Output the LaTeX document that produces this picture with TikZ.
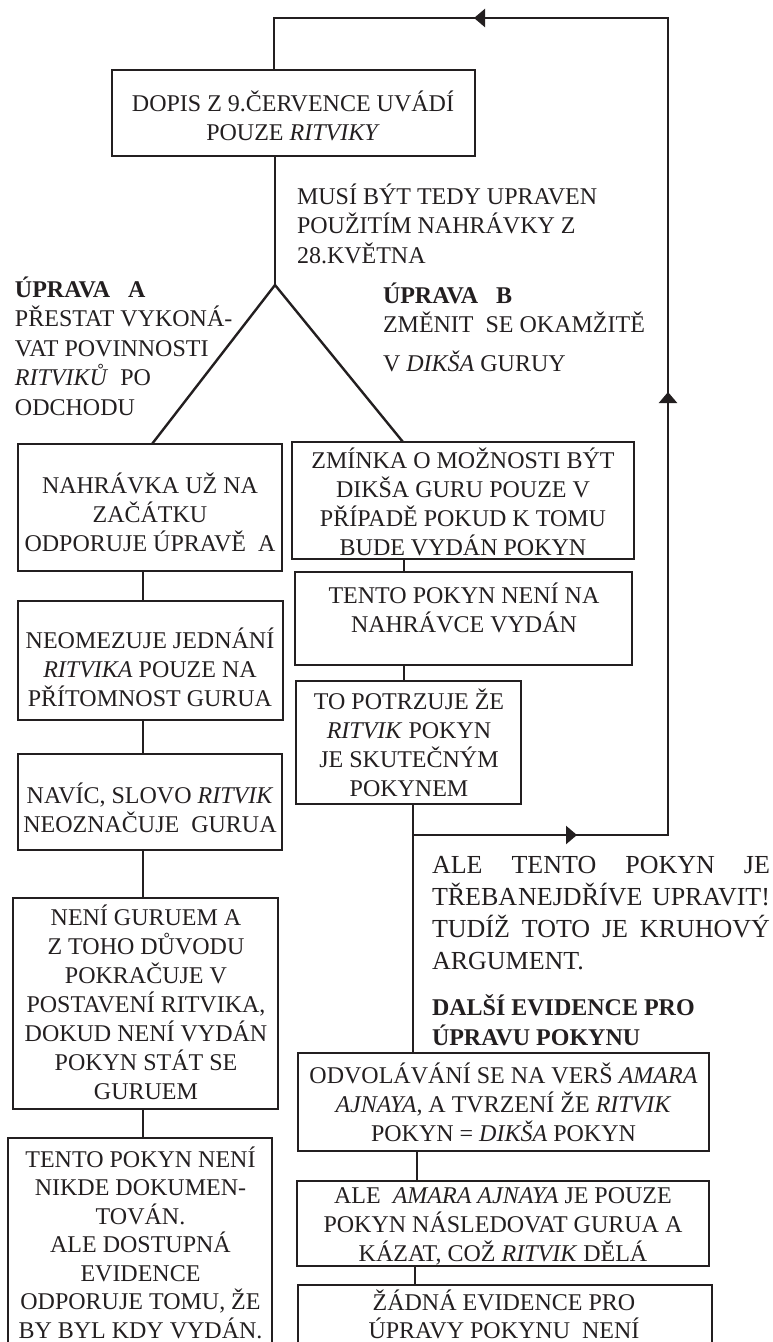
\documentclass[tikz,border=0pt]{standalone}
\usepackage{fontspec}
\setmainfont{Liberation Serif}
\usetikzlibrary{arrows.meta,decorations.markings,calc}
\definecolor{ink}{RGB}{35,31,32}
\newcommand\mystrut{\rule{0pt}{24pt}}
\begin{document}
\begin{tikzpicture}[x=1pt,y=-1pt,
  box/.style={draw=ink, line width=2.4pt, anchor=north west, inner sep=0pt, outer sep=0pt},
  txt/.style={text=ink, inner sep=0pt, outer sep=0pt, align=center, anchor=north, font=\fontsize{24}{29}\selectfont},
  ltxt/.style={text=ink, inner sep=0pt, outer sep=0pt, align=left, anchor=north west, font=\fontsize{24}{29.5}\selectfont},
  conn/.style={draw=ink, line width=2.4pt},
  >={Triangle[length=11pt,width=18pt]}
]
\useasboundingbox (0,0) rectangle (772,1342);
\clip (0,0) rectangle (772,1342);

% boxes
\node[box, minimum width=363pt, minimum height=86pt] (dopis) at (112,70) {};
\node[box, minimum width=264pt, minimum height=127pt] (a1) at (18,444) {};
\node[box, minimum width=265pt, minimum height=119pt] (a2) at (18,601) {};
\node[box, minimum width=264pt, minimum height=96pt] (a3) at (18,754) {};
\node[box, minimum width=265pt, minimum height=211pt] (a4) at (13,898) {};
\node[box, minimum width=264pt, minimum height=260pt] (a5) at (8,1138) {};
\node[box, minimum width=342pt, minimum height=117pt] (b1) at (292,442) {};
\node[box, minimum width=337pt, minimum height=93pt] (b2) at (295,572) {};
\node[box, minimum width=225pt, minimum height=123pt] (b3) at (296,681) {};
\node[box, minimum width=411pt, minimum height=98pt] (b4) at (298,1053) {};
\node[box, minimum width=412pt, minimum height=85pt] (b5) at (297,1181) {};
\node[box, minimum width=414pt, minimum height=100pt] (b6) at (298,1285) {};

% box texts
\node[txt] (dopist) at (293,87.5) {\mystrut DOPIS Z 9.ČERVENCE UVÁDÍ\\POUZE \textit{RITVIKY}};
\node[txt] (a1t) at (150,469) {\mystrut NAHRÁVKA UŽ NA\\ZAČÁTKU\\ODPORUJE ÚPRAVĚ~~A};
\node[txt] (a2t) at (150,624) {\mystrut NEOMEZUJE JEDNÁNÍ\\\textit{RITVIKA} POUZE NA\\PŘÍTOMNOST GURUA};
\node[txt] (a3t) at (150,779) {\mystrut NAVÍC, SLOVO \textit{RITVIK}\\NEOZNAČUJE~~GURUA};
\node[txt] (a4t) at (146,901) {\mystrut NENÍ GURUEM A\\Z TOHO DŮVODU\\POKRAČUJE V\\POSTAVENÍ RITVIKA,\\DOKUD NENÍ VYDÁN\\POKYN STÁT SE\\GURUEM};
\node[txt, font=\fontsize{24}{28.5}\selectfont] (a5t) at (140.5,1143) {\mystrut TENTO POKYN NENÍ\\NIKDE DOKUMEN-\\TOVÁN.\\ALE DOSTUPNÁ\\EVIDENCE\\ODPORUJE TOMU, ŽE\\BY BYL KDY VYDÁN.};
\node[txt] (b1t) at (463,444) {\mystrut ZMÍNKA O MOŽNOSTI BÝT\\DIKŠA GURU POUZE V\\PŘÍPADĚ POKUD K TOMU\\BUDE VYDÁN POKYN};
\node[txt] (b2t) at (464,579) {\mystrut TENTO POKYN NENÍ NA\\NAHRÁVCE VYDÁN};
\node[txt] (b3t) at (409,685) {\mystrut TO POTRZUJE ŽE\\\textit{RITVIK} POKYN\\JE SKUTEČNÝM\\POKYNEM};
\node[txt] (b4t) at (503.5,1059) {\mystrut ODVOLÁVÁNÍ SE NA VERŠ \textit{AMARA}\\\textit{AJNAYA}, A TVRZENÍ ŽE \textit{RITVIK}\\POKYN = \textit{DIKŠA} POKYN};
\node[txt] (b5t) at (503,1179) {\mystrut ALE~~\textit{AMARA AJNAYA} JE POUZE\\POKYN NÁSLEDOVAT GURUA A\\KÁZAT, COŽ \textit{RITVIK} DĚLÁ};
\node[txt, font=\fontsize{24}{28}\selectfont] (b6t) at (504,1286) {\mystrut ŽÁDNÁ EVIDENCE PRO\\ÚPRAVY POKYNU~~NENÍ};

% free texts
\node[ltxt] (musi) at (297,180) {\mystrut MUSÍ BÝT TEDY UPRAVEN\\POUŽITÍM NAHRÁVKY Z\\28.KVĚTNA};
\node[ltxt] (upa) at (15,273) {\mystrut\textbf{ÚPRAVA~~~A}\\PŘESTAT VYKONÁ-\\VAT POVINNOSTI\\\textit{RITVIKŮ}~~PO\\ODCHODU};
\node[ltxt] (upb) at (383,279) {\mystrut\textbf{ÚPRAVA~~~B}\\ZMĚNIT~~SE OKAMŽITĚ\\[9.5pt]V \textit{DIKŠA} GURUY};
\node[ltxt, font=\fontsize{26}{32}\selectfont] (circ) at (432,849) {\mystrut\makebox[338pt][s]{ALE TENTO POKYN JE}\\\makebox[338pt][s]{TŘEBA\kern1pt NEJDŘÍVE UPRAVIT!}\\\makebox[338pt][s]{TUDÍŽ TOTO JE KRUHOVÝ}\\ARGUMENT.};
\node[ltxt, font=\bfseries\fontsize{24}{30}\selectfont] (dalsi) at (432,991) {\mystrut DALŠÍ EVIDENCE PRO\\ÚPRAVU POKYNU};

% helper coordinates
\coordinate (apex) at (275,285);
\coordinate (xl) at (143,0);
\coordinate (xb1) at (404,0);
\coordinate (xloop) at (413,0);
\coordinate (xb4) at (417,0);
\coordinate (xb5) at (415,0);
\coordinate (xr) at (668,0);
\coordinate (xdl) at (274,0);
\coordinate (ytop) at (0,18);
\coordinate (j) at (413,835);

% connectors
\draw[conn] (apex |- dopis.south) -- (apex);
\draw[conn, line join=miter] ($(a1.north west)+(134,0)$) -- (apex) -- ($(b1.north west)+(111,0)$);
\draw[conn] (xl |- a1.south) -- (xl |- a2.north);
\draw[conn] (xl |- a2.south) -- (xl |- a3.north);
\draw[conn] (xl |- a3.south) -- (xl |- a4.north);
\draw[conn] (xl |- a4.south) -- (xl |- a5.north);
\draw[conn] (xb1 |- b1.south) -- (xb1 |- b2.north);
\draw[conn] (xb1 |- b2.south) -- (xb1 |- b3.north);
\draw[conn] (xloop |- b3.south) -- (xloop |- b4.north);
\draw[conn] (xb4 |- b4.south) -- (xb4 |- b5.north);
\draw[conn] (xb5 |- b5.south) -- (xb5 |- b6.north);
\draw[conn, postaction={decorate}, decoration={markings,
    mark=at position 164pt with {\arrow[ink]{>}},
    mark=at position 698pt with {\arrow[ink]{>}},
    mark=at position 1266pt with {\arrow[ink]{>}}}]
  (j) -- (xr |- j) -- (xr |- ytop) -- (xdl |- ytop) -- (xdl |- dopis.north);
\end{tikzpicture}
\end{document}
